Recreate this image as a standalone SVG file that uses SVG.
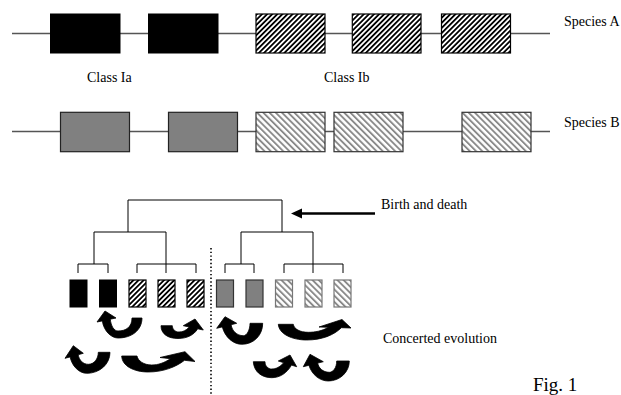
<svg xmlns="http://www.w3.org/2000/svg" width="621" height="395" viewBox="0 0 621 395">
<style>
text{font-family:"Liberation Serif","Times New Roman",serif;font-size:14px;fill:#000}
.bk{fill:#000;stroke:#000;stroke-width:1}
.hA{fill:url(#hatchA);stroke:#000;stroke-width:1.2}
.gr{fill:#808080;stroke:#222;stroke-width:1.2}
.hB{fill:url(#hatchB);stroke:#333;stroke-width:1.2}
.shA{fill:url(#hatchA);stroke:#000;stroke-width:1.2}
.sgr{fill:#808080;stroke:#333;stroke-width:1.2}
.shB{fill:url(#hatchB);stroke:#777;stroke-width:1.2}
.gene{stroke:#555;stroke-width:1.3;fill:none}
.tree{stroke:#000;stroke-width:1;fill:none}
.carrow{fill:#000;stroke:#000;stroke-width:0.8;stroke-linejoin:round}
</style>
<defs>
<pattern id="hatchA" patternUnits="userSpaceOnUse" width="3.6" height="3.6" patternTransform="rotate(45)">
<rect width="3.6" height="3.6" fill="#fff"/>
<rect width="1.8" height="3.6" fill="#000"/>
</pattern>
<pattern id="hatchB" patternUnits="userSpaceOnUse" width="4.4" height="4.4" patternTransform="rotate(-45)">
<rect width="4.4" height="4.4" fill="#fff"/>
<rect width="1.9" height="4.4" fill="#8a8a8a"/>
</pattern>
</defs>
<rect width="621" height="395" fill="#fff"/>

<g id="connectors">
<line class="gene" x1="12" y1="33.5" x2="550" y2="33.5"/>
<line class="gene" x1="12" y1="131.5" x2="550" y2="131.5"/>
<path class="tree" d="M128,232V200H282V232M94,264V232H166V273M241,264V232H313V273M78,273V264H108V273M137,273V264H196V273M225,273V264H254V273M284,273V264H343V273"/>
<line x1="211" y1="248" x2="211" y2="395" stroke="#000" stroke-width="1.6" stroke-dasharray="1.4 2.3"/>
<line x1="300" y1="213.5" x2="375" y2="213.5" stroke="#000" stroke-width="2.5"/>
<polygon points="291,213.5 302,208.5 302,218.5" fill="#000"/>
</g>

<g id="speciesA">
<rect id="a1" class="bk" x="50.5" y="14" width="69.5" height="39"/>
<rect id="a2" class="bk" x="148.5" y="14" width="69.5" height="39"/>
<rect id="a3" class="hA" x="256" y="14" width="69" height="39"/>
<rect id="a4" class="hA" x="352.3" y="14" width="68.7" height="39"/>
<rect id="a5" class="hA" x="441.5" y="14" width="69" height="39"/>
</g>
<g id="speciesB">
<rect id="b1" class="gr" x="60.5" y="112.3" width="69" height="39.4"/>
<rect id="b2" class="gr" x="168.5" y="112.3" width="69" height="39.4"/>
<rect id="b3" class="hB" x="256" y="112.3" width="69" height="39.4"/>
<rect id="b4" class="hB" x="334" y="112.3" width="69" height="39.4"/>
<rect id="b5" class="hB" x="462" y="112.3" width="69" height="39.4"/>
</g>

<g id="tree-leaves">
<rect id="l1" class="bk" x="70" y="280" width="17" height="27"/>
<rect id="l2" class="bk" x="99.5" y="280" width="17" height="27"/>
<rect id="l3" class="shA" x="129" y="280" width="17" height="27"/>
<rect id="l4" class="shA" x="158" y="280" width="17" height="27"/>
<rect id="l5" class="shA" x="187" y="280" width="17" height="27"/>
<rect id="l6" class="sgr" x="216.5" y="280" width="17" height="27"/>
<rect id="l7" class="sgr" x="246" y="280" width="17" height="27"/>
<rect id="l8" class="shB" x="275.5" y="280" width="17" height="27"/>
<rect id="l9" class="shB" x="305" y="280" width="17" height="27"/>
<rect id="l10" class="shB" x="334" y="280" width="17" height="27"/>
</g>

<g id="concerted-arrows">
<path class="carrow" d="M142,318 L132,318 C132,327 126,331 118,331 C114,331 111,326 110.3,319.2 L116,318 L105,311 L97,322 L102.3,320.9 C104,332 112,338 118,338 C132,338 142,330 142,318 Z"/>
<path class="carrow" d="M161,325.7 C161,334 168,338.5 178,338.5 C187,338.5 194,335 197.7,328.8 L203.3,330 L195,319 L183.3,325.7 L189.3,327 C186,330.5 183,332 179,332 C175,332 172.3,329 172.3,325.7 Z"/>
<path class="carrow" d="M110,352.3 L98.3,352.3 C98.3,359 94,364.3 88.3,364.3 C83,364.3 79,360 78.2,354.7 L83.3,353.3 L73.3,345.7 L65,358.3 L70.1,356.9 C72,366 79,373.3 86.7,373.3 C100,373.3 110,364 110,352.3 Z"/>
<path class="carrow" d="M121.7,356 C122,366 134,372 148.3,372 C163,372 176,367 184.5,360.3 L195,361.5 L185,351.7 L160,357.5 L170.5,358.7 C164,363 158,365 151.7,365 C144,365 138,361 137,356 Z"/>
<path class="carrow" d="M262.7,323.3 L250,323.3 C250,330 247,335.7 243.3,335.7 C237,335.7 232,331 231.1,324.7 L236.7,323.3 L225,316.7 L216.7,328.3 L222.3,326.9 C225,337 233,344.3 241.7,344.3 C254,344.3 262.7,335 262.7,323.3 Z"/>
<path class="carrow" d="M278.3,324.3 C279,334 292,340 306.7,340 C322,340 334,335 341.4,327.7 L351,328 L342,319.5 L319,327 L328.6,327.3 C322,331 315,332.3 308.3,332.3 C300,332.3 294,329 293.3,324.3 Z"/>
<path class="carrow" d="M253.3,361.7 C254,372 262,377.7 271.7,377.7 C280,377.7 287,373 291.5,365.1 L296.7,366.7 L290,355 L278.3,361 L283.8,362.7 C280,367 276,369 271.7,369 C268,369 265,366 265,361.7 Z"/>
<path class="carrow" d="M349.3,361 L336.7,361 C336.7,368 333,372.3 329.3,372.3 C323,372.3 318.5,368 317.7,363.1 L323.3,361.7 L310,354.3 L303.3,366.7 L308.9,365.3 C312,375 320,381 328.3,381 C340,381 349.3,372 349.3,361 Z"/>
</g>

<g id="labels">
<text x="564" y="26">Species A</text>
<text x="564" y="127">Species B</text>
<text x="87" y="82">Class Ia</text>
<text x="324" y="82">Class Ib</text>
<text x="381" y="209">Birth and death</text>
<text x="383" y="343">Concerted evolution</text>
<text x="533" y="391" style="font-size:19px">Fig. 1</text>
</g>
</svg>
